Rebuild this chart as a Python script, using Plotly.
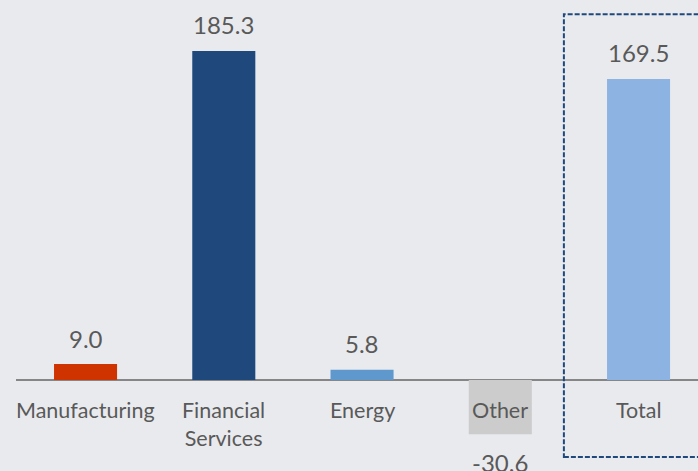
import plotly.graph_objects as go

categories = ["Manufacturing", "Financial<br>Services", "Energy", "Other", "Total"]
values = [9.0, 185.3, 5.8, -30.6, 169.5]
value_labels = ["9.0", "185.3", "5.8", "-30.6", "169.5"]
bar_colors = ["#CF3400", "#1F497D", "#5F98CD", "#CCCCCC", "#8DB3E2"]

x_idx = list(range(len(categories)))
FONT = "Lato"
TXT = "#595959"

fig = go.Figure()
fig.add_trace(go.Bar(
    x=x_idx, y=values, width=0.456,
    marker=dict(color=bar_colors, line=dict(width=0)),
    hoverinfo="skip",
))

annotations = []
for i, (v, lab) in enumerate(zip(values, value_labels)):
    annotations.append(dict(
        x=i, y=v, xref="x", yref="y", text=lab, showarrow=False,
        yshift=26 if v >= 0 else -28,
        font=dict(family=FONT, size=24, color=TXT),
    ))
for i, c in enumerate(categories):
    annotations.append(dict(
        x=i, y=0, xref="x", yref="y", text=c, showarrow=False,
        yanchor="top", yshift=-15,
        font=dict(family=FONT, size=21.5, color=TXT),
    ))

fig.update_layout(
    width=698, height=471,
    margin=dict(l=16, r=0, t=0, b=0),
    paper_bgcolor="#E9EAEE", plot_bgcolor="#E9EAEE",
    showlegend=False,
    annotations=annotations,
    xaxis=dict(range=[-0.503, 4.430], showticklabels=False, showgrid=False,
               zeroline=False, showline=False, fixedrange=True),
    yaxis=dict(range=[-51.24, 213.96], showticklabels=False, showgrid=False,
               zeroline=True, zerolinecolor="#868686", zerolinewidth=2,
               showline=False, fixedrange=True),
    shapes=[dict(
        type="rect", xref="x", yref="paper",
        x0=4 - 0.54, x1=4.7, y0=0.0297, y1=0.970,
        line=dict(color="#1F497D", width=2, dash="5px,2px"),
        fillcolor="rgba(0,0,0,0)", layer="above",
    )],
)

fig.write_html(
    "out.html",
    config={"displayModeBar": False},
    post_script="document.body.style.margin='0';document.body.style.overflow='hidden';",
)
